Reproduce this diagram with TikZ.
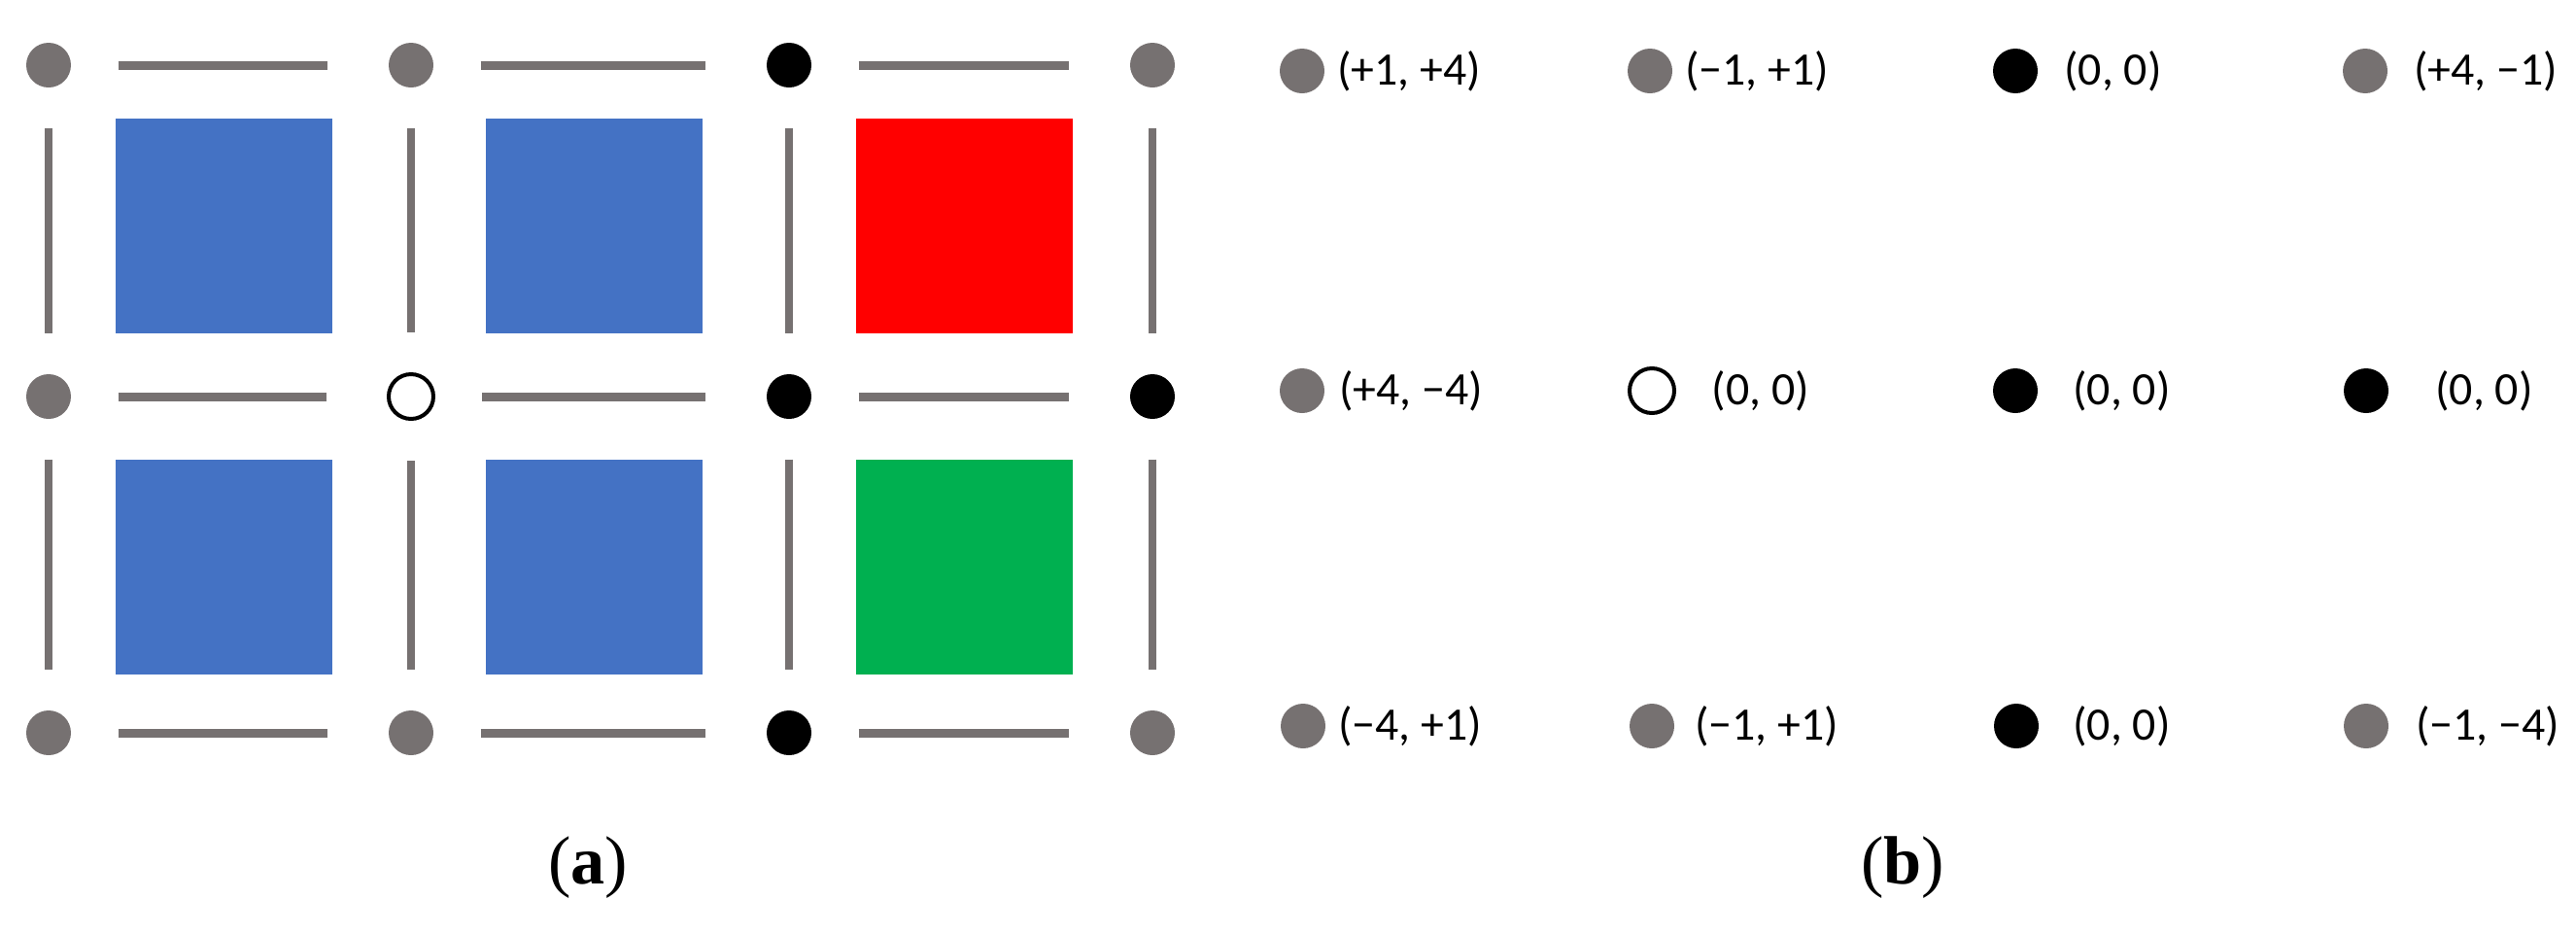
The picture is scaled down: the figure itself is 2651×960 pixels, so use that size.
\documentclass[tikz,border=0pt]{standalone}
\usepackage{fontspec}
\setmainfont{Carlito}
\newfontfamily\capfont{Liberation Serif}
\usetikzlibrary{positioning}
\definecolor{cellblue}{HTML}{4472C4}
\definecolor{cellred}{HTML}{FF0000}
\definecolor{cellgreen}{HTML}{00B050}
\definecolor{dotgray}{HTML}{767171}
\tikzset{
  graydot/.style={circle,fill=dotgray,minimum size=4.6mm,inner sep=0pt},
  blackdot/.style={circle,fill=black,minimum size=4.6mm,inner sep=0pt},
  opendot/.style={circle,draw=black,line width=0.4mm,fill=white,minimum size=4.6mm,inner sep=0pt},
  hbar/.style={draw=dotgray,line width=0.9mm,shorten <=4.8mm,shorten >=6.2mm},
  vbar/.style={draw=dotgray,line width=0.8mm,shorten <=4.1mm,shorten >=4.1mm},
  cell/.style={minimum width=22.3mm,minimum height=22.1mm,inner sep=0pt},
  pair/.style={inner sep=0pt,font=\fontsize{13.6}{16}\selectfont},
  sublabel/.style={inner sep=0pt,font=\capfont\fontsize{20}{24}\selectfont}
}

\begin{document}
\begin{tikzpicture}[x=0.1mm,y=-0.1mm]
\useasboundingbox (0,0) rectangle (2651,960);

% (a) lattice
\node[cell,fill=cellblue] (s11) at (230,232) {};
\node[cell,fill=cellblue] (s12) at (611,232) {};
\node[cell,fill=cellred] (s13) at (992,232) {};
\node[cell,fill=cellblue] (s21) at (230,583) {};
\node[cell,fill=cellblue] (s22) at (611,583) {};
\node[cell,fill=cellgreen] (s23) at (992,583) {};

\node[graydot] (a11) at (50,67) {};
\node[graydot] (a12) at (423,67) {};
\node[blackdot] (a13) at (812,67) {};
\node[graydot] (a14) at (1186,67) {};
\node[graydot] (a21) at (50,408) {};
\node[opendot] (a22) at (423,408) {};
\node[blackdot] (a23) at (812,408) {};
\node[blackdot] (a24) at (1186,408) {};
\node[graydot] (a31) at (50,754) {};
\node[graydot] (a32) at (423,754) {};
\node[blackdot] (a33) at (812,754) {};
\node[graydot] (a34) at (1186,754) {};

\draw[hbar] (a11) -- (a12);
\draw[hbar] (a12) -- (a13);
\draw[hbar] (a13) -- (a14);
\draw[hbar] (a21) -- (a22);
\draw[hbar] (a22) -- (a23);
\draw[hbar] (a23) -- (a24);
\draw[hbar] (a31) -- (a32);
\draw[hbar] (a32) -- (a33);
\draw[hbar] (a33) -- (a34);

\draw[vbar] (a11) -- (a21);
\draw[vbar] (a12) -- (a22);
\draw[vbar] (a13) -- (a23);
\draw[vbar] (a14) -- (a24);
\draw[vbar] (a21) -- (a31);
\draw[vbar] (a22) -- (a32);
\draw[vbar] (a23) -- (a33);
\draw[vbar] (a24) -- (a34);

\node[sublabel] (capa) at (605,893) {(\textbf{a})};

% (b) values
\node[graydot] (b11) at (1340,73) {};
\node[graydot] (b12) at (1698,73) {};
\node[blackdot] (b13) at (2074,73) {};
\node[graydot] (b14) at (2434,73) {};
\node[graydot] (b21) at (1340,402) {};
\node[opendot] (b22) at (1700,402) {};
\node[blackdot] (b23) at (2074,402) {};
\node[blackdot] (b24) at (2435,402) {};
\node[graydot] (b31) at (1341,747) {};
\node[graydot] (b32) at (1700,747) {};
\node[blackdot] (b33) at (2075,747) {};
\node[graydot] (b34) at (2435,747) {};

\node[pair,right=1.2mm of b11] (v11) {(+1, +4)};
\node[pair,right=1.2mm of b12] (v12) {(−1, +1)};
\node[pair,right=2.6mm of b13] (v13) {(0, 0)};
\node[pair,right=2.6mm of b14] (v14) {(+4, −1)};
\node[pair,right=1.4mm of b21] (v21) {(+4, −4)};
\node[pair,right=3.6mm of b22] (v22) {(0, 0)};
\node[pair,right=3.5mm of b23] (v23) {(0, 0)};
\node[pair,right=4.7mm of b24] (v24) {(0, 0)};
\node[pair,right=1.2mm of b31] (v31) {(−4, +1)};
\node[pair,right=2mm of b32] (v32) {(−1, +1)};
\node[pair,right=3.4mm of b33] (v33) {(0, 0)};
\node[pair,right=2.7mm of b34] (v34) {(−1, −4)};

\node[sublabel] (capb) at (1958,893) {(\textbf{b})};

\end{tikzpicture}
\end{document}
